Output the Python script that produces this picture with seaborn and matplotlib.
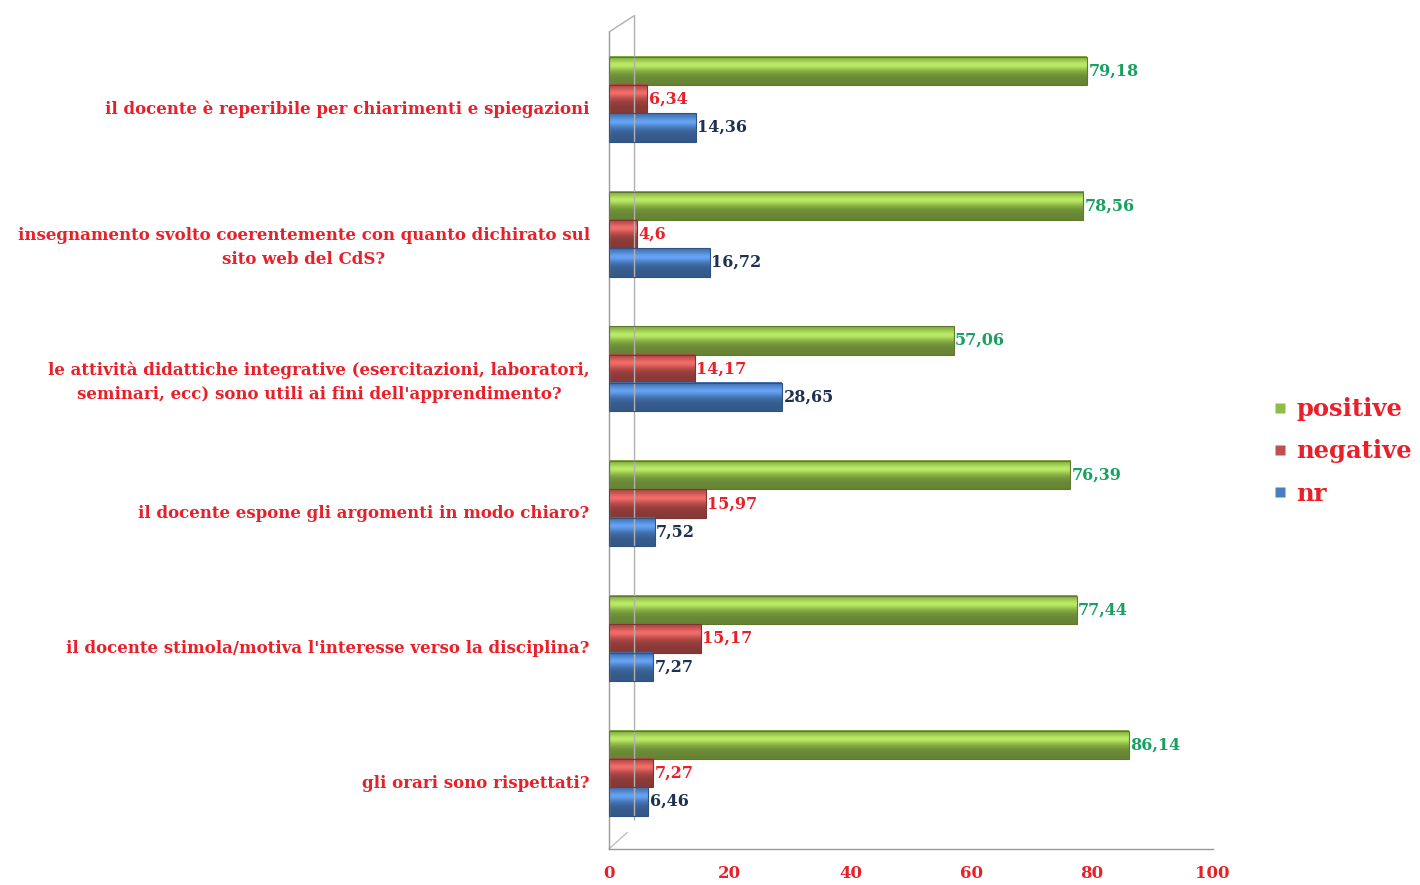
import numpy as np
import pandas as pd
import matplotlib
matplotlib.use('Agg')
import matplotlib.pyplot as plt
import matplotlib.transforms as mtransforms
import seaborn as sns

# data
questions = [
    "il docente è reperibile per chiarimenti e spiegazioni",
    "insegnamento svolto coerentemente con quanto dichirato sul\nsito web del CdS?",
    "le attività didattiche integrative (esercitazioni, laboratori,\nseminari, ecc) sono utili ai fini dell'apprendimento?",
    "il docente espone gli argomenti in modo chiaro?",
    "il docente stimola/motiva l'interesse verso la disciplina?",
    "gli orari sono rispettati?",
]
series = ["positive", "negative", "nr"]
positive = [79.18, 78.56, 57.06, 76.39, 77.44, 86.14]
negative = [6.34, 4.6, 14.17, 15.97, 15.17, 7.27]
nr = [14.36, 16.72, 28.65, 7.52, 7.27, 6.46]
x_ticks = [0, 20, 40, 60, 80, 100]

bar_colors = {"positive": "#92BC4A", "negative": "#C0504D", "nr": "#4A7EC2"}
label_colors = {"positive": "#18A060", "negative": "#E8202A", "nr": "#1F3050"}
red_text = "#E8202A"

rows = []
for q, p, n, r in zip(questions, positive, negative, nr):
    rows.append({"question": q, "series": "positive", "value": p})
    rows.append({"question": q, "series": "negative", "value": n})
    rows.append({"question": q, "series": "nr", "value": r})
df = pd.DataFrame(rows)

sns.set_style("white")
plt.rcParams['font.family'] = ['DejaVu Serif', 'Liberation Serif']
plt.rcParams['font.weight'] = 'bold'

fig = plt.figure(figsize=(14.2, 8.85), dpi=100)
ax = fig.add_axes([0.429, 0.041, 0.425, 0.923])

sns.barplot(data=df, y='question', x='value', hue='series', hue_order=series,
            order=questions, palette=bar_colors, orient='h', width=0.63,
            edgecolor='none', legend=False, ax=ax)

# cylinder-like shading on each bar
for patch, s in zip(ax.patches, np.repeat(series, len(questions))):
    base = np.array(matplotlib.colors.to_rgb(bar_colors[s]))
    t = np.linspace(0, 1, 40)
    shade = 0.8 + 0.4 * np.exp(-((t - 0.3) / 0.25) ** 2) - 0.1 * t
    img = np.clip(base[None, :] * shade[:, None] + 0.06 * np.exp(-((t - 0.3) / 0.12) ** 2)[:, None], 0, 1)
    img = img[:, None, :]
    x0, y0 = patch.get_x(), patch.get_y()
    w, h = patch.get_width(), patch.get_height()
    ax.imshow(img, extent=(x0, x0 + w, y0 + h, y0), aspect='auto', zorder=2,
              interpolation='bilinear')
    patch.set_edgecolor(tuple(base * 0.65))
    patch.set_linewidth(0.8)
    patch.set_zorder(3)
    patch.set_facecolor('none')

for cont, s in zip(ax.containers, series):
    vals = df[df.series == s].value.tolist()
    labs = [str(v).replace('.', ',') for v in vals]
    ax.bar_label(cont, labels=labs, padding=1, color=label_colors[s],
                 fontsize=11.5, fontweight='bold', zorder=5)

ax.set_xlim(0, 100)
ax.set_ylim(len(questions) - 0.5 + 0.06, -0.5 + 0.06)
ax.set_xticks(x_ticks)
ax.set_xticklabels([str(v) for v in x_ticks], color=red_text, fontsize=12, fontweight='bold')
ax.set_xlabel('')
ax.set_ylabel('')
ax.tick_params(axis='x', length=4, color='#9a9a9a', pad=8)
ax.tick_params(axis='y', which='major', length=0, pad=14)
ax.set_yticks(np.arange(len(questions) + 1) - 0.5, minor=True)
ax.tick_params(axis='y', which='minor', length=5, color='#9a9a9a')
for lab in ax.get_yticklabels():
    lab.set_color(red_text)
    lab.set_fontsize(12)
    lab.set_fontweight('bold')
    lab.set_multialignment('center')
    lab.set_linespacing(1.5)
    lab.set_transform(lab.get_transform() +
                      mtransforms.ScaledTranslation(0, -0.08, fig.dpi_scale_trans))

for side in ['top', 'right']:
    ax.spines[side].set_visible(False)
for side in ['left', 'bottom']:
    ax.spines[side].set_color('#9a9a9a')
    ax.spines[side].set_linewidth(1)

# back wall of the 3D frame
ax.plot([0.0, 0.042, 0.042], [1.0, 1.02, 0.035], transform=ax.transAxes,
        color='#b0b0b0', lw=1, clip_on=False)
ax.plot([0.0, 0.03], [0.0, 0.02], transform=ax.transAxes,
        color='#c0c0c0', lw=1, clip_on=False)

handles = [plt.Line2D([], [], marker='s', linestyle='none', markersize=7,
                      markerfacecolor=bar_colors[s], markeredgecolor='none') for s in series]
leg = fig.legend(handles, series, loc='center left', bbox_to_anchor=(0.888, 0.49),
                 frameon=False, handlelength=0.6, handletextpad=0.35, labelspacing=0.75,
                 borderpad=0, prop={'family': 'DejaVu Serif', 'weight': 'bold', 'size': 17.5})
for txt in leg.get_texts():
    txt.set_color(red_text)

fig.savefig('out.png', dpi=100)
